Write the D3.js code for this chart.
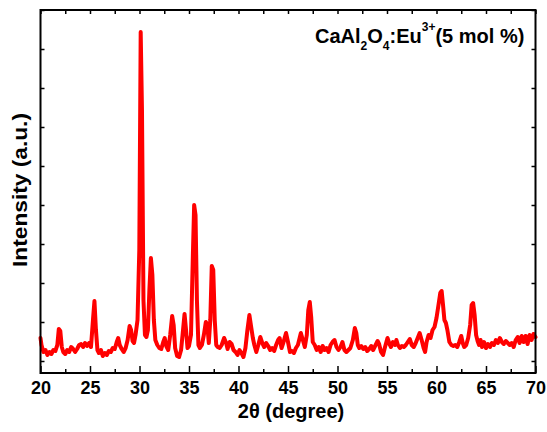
<!DOCTYPE html>
<html>
<head>
<meta charset="utf-8">
<script src="https://cdn.jsdelivr.net/npm/d3@7"></script>
<style>
  html, body { margin: 0; padding: 0; background: #fff; }
  svg { display: block; font-family: "Liberation Sans", Arial, sans-serif; }
</style>
</head>
<body>
<div id="chart"></div>
<script>
// XRD pattern, CaAl2O4:Eu3+ (5 mol %)
const twoTheta = [
  20.0, 20.1, 20.3, 20.5, 20.7, 20.9, 21.1, 21.3, 21.5, 21.7, 21.85, 22.0, 22.15, 22.3, 22.5, 22.7, 22.9,
  23.1, 23.3, 23.5, 23.7, 23.9, 24.1, 24.3, 24.5, 24.7, 24.9, 25.1, 25.3, 25.45, 25.6, 25.75, 25.9,
  26.1, 26.3, 26.5, 26.7, 26.9, 27.1, 27.3, 27.5, 27.7, 27.85, 28.0, 28.2, 28.4, 28.6, 28.8, 29.0,
  29.15, 29.3, 29.45, 29.6, 29.8, 29.98, 30.12, 30.25, 30.4, 30.55, 30.7, 30.85, 31.0, 31.15, 31.3,
  31.45, 31.6, 31.8, 32.0, 32.2, 32.4, 32.55, 32.7, 32.9, 33.1, 33.3, 33.45, 33.6, 33.8, 34.0, 34.2,
  34.35, 34.55, 34.7, 34.85, 35.0, 35.2, 35.38, 35.52, 35.66, 35.8, 35.95, 36.1, 36.3, 36.5, 36.7,
  36.85, 37.0, 37.15, 37.3, 37.45, 37.6, 37.75, 37.9, 38.1, 38.3, 38.55, 38.75, 38.9, 39.1, 39.3,
  39.5, 39.7, 39.9, 40.1, 40.3, 40.5, 40.7, 40.9, 41.1, 41.25, 41.45, 41.6, 41.8, 42.0, 42.2, 42.4,
  42.6, 42.8, 43.0, 43.2, 43.4, 43.6, 43.8, 44.0, 44.15, 44.35, 44.55, 44.8, 45.0, 45.2, 45.4, 45.6,
  45.8, 46.0, 46.3, 46.5, 46.7, 46.9, 47.05, 47.2, 47.35, 47.5, 47.7, 47.9, 48.1, 48.3, 48.5, 48.7,
  48.9, 49.1, 49.3, 49.5, 49.7, 49.9, 50.1, 50.3, 50.5, 50.7, 50.9, 51.1, 51.3, 51.55, 51.75, 51.9,
  52.05, 52.2, 52.4, 52.6, 52.8, 53.0, 53.2, 53.4, 53.6, 53.8, 54.05, 54.2, 54.4, 54.6, 54.8, 55.05,
  55.25, 55.4, 55.6, 55.8, 55.95, 56.1, 56.3, 56.5, 56.7, 56.9, 57.1, 57.3, 57.5, 57.7, 57.9, 58.1,
  58.3, 58.5, 58.7, 58.85, 59.0, 59.2, 59.4, 59.6, 59.8, 60.0, 60.2, 60.38, 60.52, 60.66, 60.8, 60.95,
  61.1, 61.3, 61.5, 61.7, 61.9, 62.1, 62.3, 62.5, 62.65, 62.8, 63.0, 63.2, 63.4, 63.55, 63.7, 63.85,
  64.0, 64.15, 64.3, 64.45, 64.6, 64.8, 65.0, 65.2, 65.4, 65.6, 65.8, 66.0, 66.2, 66.4, 66.6, 66.8,
  67.0, 67.2, 67.4, 67.6, 67.8, 68.0, 68.2, 68.4, 68.6, 68.8, 69.0, 69.2, 69.4, 69.6, 69.8, 70.0
];
const intensity = [
  350, 280, 210, 230, 180, 210, 190, 230, 220, 280, 440, 420, 260, 210, 190, 230, 210,
  260, 240, 210, 240, 280, 290, 260, 300, 270, 300, 260, 530, 720, 430, 230, 200,
  230, 170, 200, 180, 220, 210, 250, 240, 310, 350, 280, 240, 210, 250, 330, 470,
  430, 320, 300, 380, 530, 1230, 3410, 2630, 730, 380, 360, 430, 830, 1150, 980,
  530, 330, 280, 250, 240, 310, 350, 270, 230, 380, 570, 480, 250, 170, 160, 230,
  380, 590, 430, 250, 270, 380, 1130, 1680, 1580, 730, 280, 250, 280, 380, 510,
  480, 300, 530, 1070, 1030, 530, 280, 260, 250, 280, 350, 300, 240, 310, 290,
  230, 210, 180, 230, 200, 160, 250, 430, 580, 480, 350, 280, 210, 280, 360, 300,
  260, 300, 270, 230, 250, 220, 280, 330, 350, 250, 310, 400, 310, 210, 220, 200,
  250, 280, 400, 330, 260, 380, 630, 710, 550, 310, 280, 230, 260, 210, 270, 230,
  250, 210, 280, 310, 330, 260, 230, 260, 310, 230, 210, 230, 250, 330, 450, 400,
  280, 250, 270, 240, 260, 220, 240, 270, 230, 270, 320, 290, 210, 180, 260, 350,
  290, 260, 310, 280, 330, 280, 250, 270, 260, 280, 310, 340, 280, 260, 300, 350,
  400, 330, 250, 210, 310, 380, 350, 430, 460, 550, 680, 800, 820, 680, 530, 500,
  430, 310, 280, 270, 280, 260, 310, 370, 300, 260, 280, 350, 480, 680, 700, 580,
  380, 320, 280, 330, 260, 310, 250, 290, 260, 300, 280, 330, 300, 350, 310, 290,
  320, 300, 280, 300, 260, 330, 360, 300, 370, 310, 370, 290, 380, 330, 390, 360
];
const xTicks = [20, 25, 30, 35, 40, 45, 50, 55, 60, 65, 70];
const yTicks = d3.range(120, 3631, 390);

const width = 547, height = 432;
const x = d3.scaleLinear().domain([20, 70]).range([40.5, 535.5]);
const y = d3.scaleLinear().domain([0, 3630]).range([373, 10]);

const svg = d3.select('#chart').append('svg')
  .attr('width', width).attr('height', height);

const points = twoTheta.map((t, i) => [t, intensity[i]]);

// pattern
svg.append('path')
  .datum(points)
  .attr('fill', 'none')
  .attr('stroke', '#ff0000')
  .attr('stroke-width', 4)
  .attr('stroke-linejoin', 'round')
  .attr('stroke-linecap', 'round')
  .attr('d', d3.line().x(d => x(d[0])).y(d => y(d[1])));

// frame
svg.append('rect')
  .attr('x', x.range()[0]).attr('y', y.range()[1])
  .attr('width', x.range()[1] - x.range()[0])
  .attr('height', y.range()[0] - y.range()[1])
  .attr('fill', 'none').attr('stroke', '#000').attr('stroke-width', 2);

const minorX = d3.range(22.5, 70, 5);

// bottom axis (inward ticks)
const bottom = svg.append('g').attr('transform', `translate(0,${y.range()[0]})`)
  .call(d3.axisBottom(x).tickValues(xTicks).tickSizeInner(-7).tickSizeOuter(0)
    .tickPadding(8).tickFormat(d3.format('d')));
svg.append('g').attr('transform', `translate(0,${y.range()[0]})`)
  .call(d3.axisBottom(x).tickValues(minorX).tickSize(-4).tickFormat(''));

// top axis
svg.append('g').attr('transform', `translate(0,${y.range()[1]})`)
  .call(d3.axisTop(x).tickValues(xTicks.concat(minorX)).tickSize(-4).tickFormat(''));

// left / right axes
svg.append('g').attr('transform', `translate(${x.range()[0]},0)`)
  .call(d3.axisLeft(y).tickValues(yTicks).tickSize(-4).tickFormat(''));
svg.append('g').attr('transform', `translate(${x.range()[1]},0)`)
  .call(d3.axisRight(y).tickValues(yTicks).tickSize(-4).tickFormat(''));

svg.selectAll('.domain').remove();
svg.selectAll('.tick line').attr('stroke', '#000').attr('stroke-width', 1.5);

bottom.selectAll('text')
  .attr('font-family', '"Liberation Sans", Arial, sans-serif')
  .attr('font-size', 18).attr('font-weight', 'bold').attr('fill', '#000');

// axis titles
svg.append('text')
  .attr('x', 291).attr('y', 418)
  .attr('text-anchor', 'middle')
  .attr('font-size', 20).attr('font-weight', 'bold')
  .text('2θ (degree)');

svg.append('text')
  .attr('transform', 'translate(27,190) rotate(-90)')
  .attr('text-anchor', 'middle')
  .attr('font-size', 21).attr('font-weight', 'bold')
  .attr('textLength', 154).attr('lengthAdjust', 'spacingAndGlyphs')
  .text('Intensity (a.u.)');

// sample label
const lab = svg.append('text')
  .attr('x', 315).attr('y', 43)
  .attr('font-size', 20).attr('font-weight', 'bold');
lab.append('tspan').text('CaAl');
lab.append('tspan').attr('dy', 7).attr('font-size', 12).text('2');
lab.append('tspan').attr('dy', -7).text('O');
lab.append('tspan').attr('dy', 7).attr('font-size', 12).text('4');
lab.append('tspan').attr('dy', -7).text(':Eu');
lab.append('tspan').attr('dy', -12).attr('font-size', 12).text('3+');
lab.append('tspan').attr('dy', 12).text('(5 mol %)');
</script>
</body>
</html>
